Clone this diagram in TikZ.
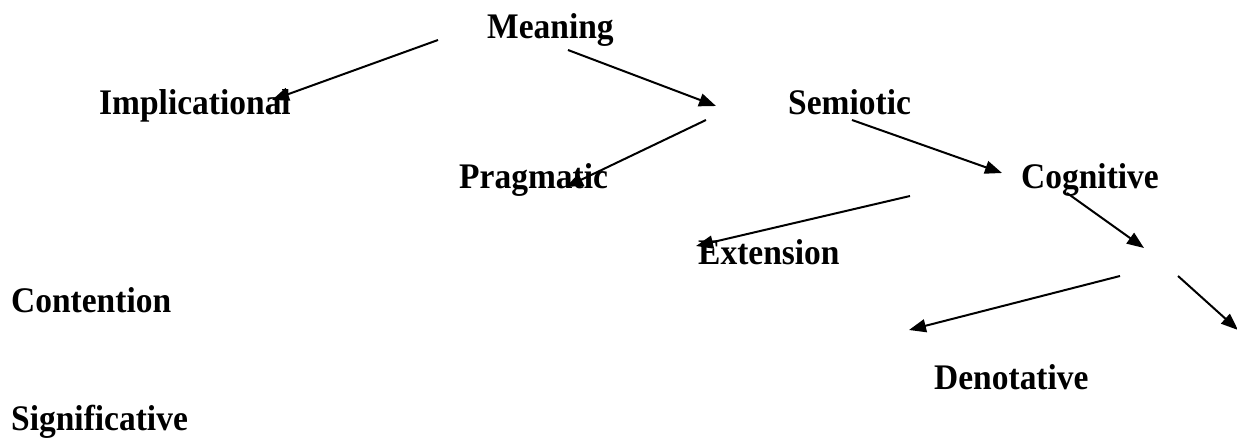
\documentclass[tikz,border=0pt]{standalone}
\usepackage{fontspec}
\setmainfont{Liberation Serif}
\newfontfamily\lblfont{Liberation Serif}[FakeStretch=0.93]
\usetikzlibrary{arrows.meta}
\begin{document}
\begin{tikzpicture}[x=1pt,y=-1pt,
  lbl/.style={anchor=base west, inner sep=0pt, font=\lblfont\fontsize{36}{42}\selectfont\bfseries},
  arr/.style={line width=2pt, -{Triangle[length=17pt,width=13pt]}}]
\useasboundingbox (0,0) rectangle (1237,441);
\node[lbl] (meaning) at (487,39) {Meaning};
\node[lbl] (impl) at (99,115) {Implicational};
\node[lbl] (semio) at (788,115) {Semiotic};
\node[lbl] (prag) at (459,189) {Pragmatic};
\node[lbl] (cogn) at (1021,188) {Cognitive};
\node[lbl] (ext) at (698,264) {Extension};
\node[lbl] (cont) at (11,312) {Contention};
\node[lbl] (deno) at (934,389) {Denotative};
\node[lbl] (sign) at (11,430) {Significative};
\coordinate (a1s) at (438,40);   \coordinate (a1e) at (272,100);
\coordinate (a2s) at (568,50);   \coordinate (a2e) at (716,106);
\coordinate (a3s) at (706,120);  \coordinate (a3e) at (566,187);
\coordinate (a4s) at (852,120);  \coordinate (a4e) at (1002,173);
\coordinate (a5s) at (910,196);  \coordinate (a5e) at (696,246);
\coordinate (a6s) at (1067,193); \coordinate (a6e) at (1144,248);
\coordinate (a7s) at (1120,276); \coordinate (a7e) at (909,330);
\coordinate (a8s) at (1178,276); \coordinate (a8e) at (1238,330);
\foreach \i in {1,...,8} \draw[arr] (a\i s) -- (a\i e);
\end{tikzpicture}
\end{document}
